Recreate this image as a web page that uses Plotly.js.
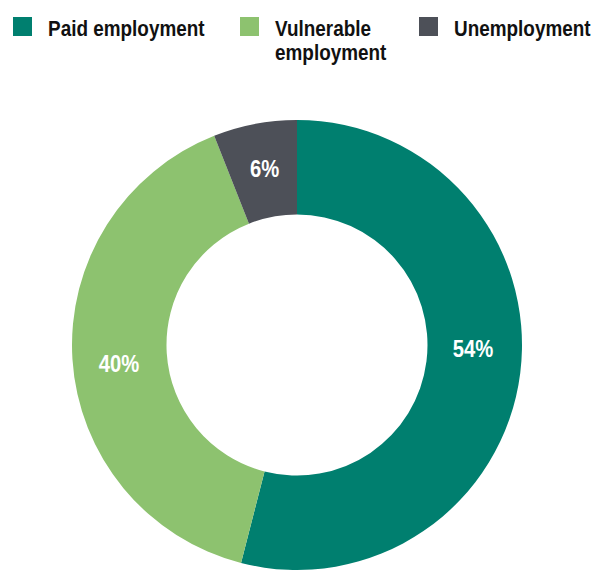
<!DOCTYPE html>
<html>
<head>
<meta charset="utf-8">
<script src="https://cdn.plot.ly/plotly-3.0.1.min.js"></script>
<style>html,body{margin:0;padding:0;background:#fff;}#chart{width:592px;height:570px;}</style>
</head>
<body>
<div id="chart"></div>
<script>
const categories = ["Paid employment", "Vulnerable employment", "Unemployment"];
const legendLines = [["Paid employment"], ["Vulnerable", "employment"], ["Unemployment"]];
const values = [54, 40, 6];
const colors = ["#007F6F", "#8DC26F", "#4D5058"];

const FONT = "'Liberation Sans', Arial, sans-serif";
const W = 592, H = 570;
const SX_LEG = 0.86; // horizontal condensing to mimic the narrow typeface
const SX_PCT = 0.88;

const trace = {
  type: "pie",
  labels: categories,
  values: values,
  sort: false,
  direction: "clockwise",
  rotation: 0,
  hole: 0.58,
  marker: {colors: colors, line: {width: 0}},
  textinfo: "none",
  domain: {x: [70 / W, 524 / W], y: [0, 450 / H]},
  showlegend: false,
  hoverinfo: "label+value"
};

// legend built from categories/colors
const legX = [13, 240, 419];
const shapes = [];
const annotations = [];
legendLines.forEach((lines, i) => {
  shapes.push({
    type: "rect", xref: "paper", yref: "paper",
    x0: legX[i] / W, x1: (legX[i] + 19) / W,
    y0: 1 - 36 / H, y1: 1 - 17 / H,
    fillcolor: colors[i], line: {width: 0}
  });
  lines.forEach((t, j) => {
    annotations.push({
      xref: "paper", yref: "paper",
      x: (legX[i] + 33) / W, y: 1 - (28.5 + j * 24) / H,
      xanchor: "left", yanchor: "middle",
      text: "<b>" + t + "</b>", showarrow: false,
      font: {family: FONT, size: 22, color: "#111111"},
      name: "leg"
    });
  });
});

// percentage labels on the ring (positions as in the reference layout)
const labelPos = [[473, 349], [119, 364], [264, 169]];
values.forEach((v, i) => {
  annotations.push({
    xref: "paper", yref: "paper",
    x: labelPos[i][0] / W, y: 1 - labelPos[i][1] / H,
    xanchor: "center", yanchor: "middle",
    text: "<b>" + v + "%</b>", showarrow: false,
    font: {family: FONT, size: 23, color: "#ffffff"},
    name: "pct"
  });
});

const layout = {
  width: W, height: H,
  margin: {l: 0, r: 0, t: 0, b: 0},
  paper_bgcolor: "#ffffff",
  plot_bgcolor: "#ffffff",
  shapes: shapes,
  annotations: annotations,
  showlegend: false
};

Plotly.newPlot("chart", [trace], layout, {displayModeBar: false, staticPlot: true}).then(gd => {
  const texts = gd.querySelectorAll("g.annotation text.annotation-text");
  texts.forEach((t, k) => {
    const bb = t.getBBox();
    const isLeg = annotations[k] && annotations[k].name === "leg";
    const s = isLeg ? SX_LEG : SX_PCT;
    const ax = isLeg ? bb.x : bb.x + bb.width / 2;
    t.setAttribute("transform", "translate(" + (ax * (1 - s)) + ",0) scale(" + s + ",1)");
  });
});
</script>
</body>
</html>
